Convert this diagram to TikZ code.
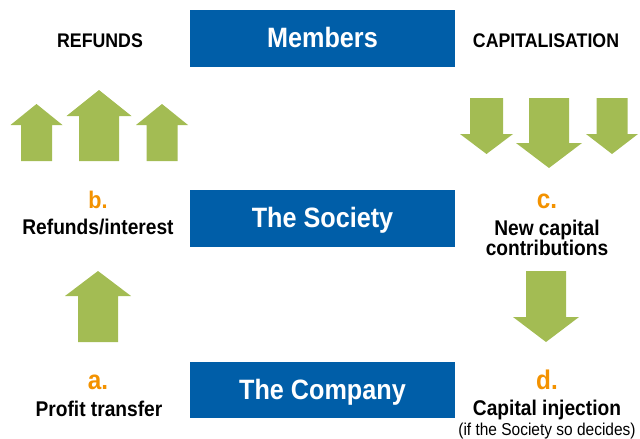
\documentclass[tikz,border=0pt]{standalone}
\usepackage{fontspec}
\setmainfont{Liberation Sans}[FakeStretch=0.9]
\definecolor{boxblue}{HTML}{005EA8}
\definecolor{arrgreen}{HTML}{A3BC53}
\definecolor{lblorange}{HTML}{F39200}
\tikzset{
  x=1pt, y=-1pt,
  bluebox/.style={fill=boxblue, draw=none},
  boxtext/.style={text=white, font=\bfseries\fontsize{28}{30}\selectfont, anchor=base, inner sep=0pt},
  headtext/.style={text=black, font=\bfseries\fontsize{19.7}{22}\selectfont, anchor=base, inner sep=0pt},
  lettertext/.style={text=lblorange, font=\bfseries\fontsize{27}{30}\selectfont, anchor=base, inner sep=0pt},
  desctext/.style={text=black, font=\bfseries\fontsize{21.3}{24}\selectfont, anchor=base, inner sep=0pt},
  smalltext/.style={text=black, font=\fontsize{17.2}{20}\selectfont, anchor=base, inner sep=0pt},
  greenarrow/.style={fill=arrgreen, draw=none}
}
% up arrow: center x, shaft half width, head half width, tip y, head base y, bottom y
\newcommand\myUpArrow[6]{%
  \fill[greenarrow] (#1-#2,#6) -- (#1-#2,#5) -- (#1-#3,#5) -- (#1,#4) -- (#1+#3,#5) -- (#1+#2,#5) -- (#1+#2,#6) -- cycle;}
% down arrow: center x, shaft half width, head half width, top y, head base y, tip y
\newcommand\myDownArrow[6]{%
  \fill[greenarrow] (#1-#2,#4) -- (#1-#2,#5) -- (#1-#3,#5) -- (#1,#6) -- (#1+#3,#5) -- (#1+#2,#5) -- (#1+#2,#4) -- cycle;}
\begin{document}
\begin{tikzpicture}
\useasboundingbox (0,0) rectangle (640,439);
% boxes
\fill[bluebox] (190,10) rectangle (455,67);
\fill[bluebox] (190,190) rectangle (455,247);
\fill[bluebox] (190,362) rectangle (455,418);
\node[boxtext] (members) at (322.5,47) {Members};
\node[boxtext] (society) at (322.5,227) {The Society};
\node[boxtext] (company) at (322.5,399) {The Company};
% headings
\node[headtext] (refunds) at (100,47) {REFUNDS};
\node[headtext] (capit) at (546,47) {CAPITALISATION};
% top arrows left (up)
\myUpArrow{36.5}{15.5}{26}{104}{125}{161}
\myUpArrow{99}{20}{32.5}{90}{116}{161}
\myUpArrow{162}{15.5}{26}{104}{125}{161}
% top arrows right (down)
\myDownArrow{486.5}{16.5}{26.5}{98}{134}{154}
\myDownArrow{549}{20}{33}{98}{143}{168}
\myDownArrow{612}{15.5}{26}{98}{134}{154}
% middle arrows
\myUpArrow{98}{20}{33}{271}{296}{342}
\myDownArrow{546}{20}{33}{271}{317}{342}
% labels left
\node[lettertext, font=\bfseries\fontsize{24}{27}\selectfont] (lb) at (98,208) {b.};
\node[desctext] (refint) at (98,234) {Refunds/interest};
\node[lettertext] (la) at (98,389) {a.};
\node[desctext] (proftr) at (99,416) {Profit transfer};
% labels right
\node[lettertext] (lc) at (547,208) {c.};
\node[desctext] (newcap) at (547,235) {New capital};
\node[desctext] (contrib) at (547,255) {contributions};
\node[lettertext] (ld) at (547,389) {d.};
\node[desctext] (capinj) at (547,415) {Capital injection};
\node[smalltext] (ifsoc) at (547,435) {(if the Society so decides)};
\end{tikzpicture}
\end{document}
